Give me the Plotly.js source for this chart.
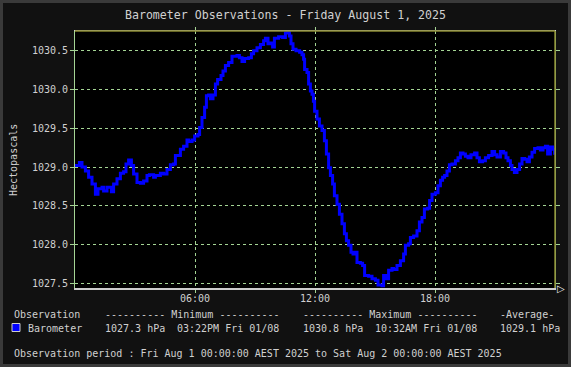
<!DOCTYPE html>
<html>
<head>
<meta charset="utf-8">
<script src="https://cdn.plot.ly/plotly-3.0.1.min.js"></script>
<style>html,body{margin:0;padding:0;background:#111;}#chart{width:571px;height:367px;}</style>
</head>
<body>
<div id="chart"></div>
<script>
// Hours since midnight, Fri 1 Aug 2025
const hours = [0.0,0.1,0.22,0.35,0.52,0.68,0.85,1.02,1.15,1.35,1.43,1.6,1.82,1.93,2.1,2.27,2.43,2.55,2.68,2.82,2.93,3.1,3.27,3.43,3.6,3.72,3.93,4.02,4.27,4.43,4.6,4.77,4.93,5.02,5.18,5.27,5.43,5.6,5.68,5.85,5.98,6.15,6.23,6.35,6.48,6.57,6.68,6.77,6.9,7.02,7.13,7.3,7.4,7.52,7.68,7.85,8.1,8.22,8.35,8.48,8.68,8.82,8.93,9.1,9.27,9.43,9.52,9.65,9.77,9.88,9.97,10.18,10.38,10.52,10.6,10.72,10.8,10.9,11.05,11.23,11.35,11.43,11.48,11.6,11.68,11.77,11.85,11.92,11.98,12.1,12.22,12.35,12.47,12.57,12.68,12.77,12.88,12.97,13.1,13.22,13.35,13.47,13.57,13.68,13.8,13.9,14.02,14.1,14.27,14.38,14.48,14.68,14.85,15.02,15.15,15.35,15.43,15.55,15.68,15.85,15.93,16.1,16.27,16.43,16.52,16.68,16.77,16.93,17.1,17.22,17.35,17.47,17.63,17.73,17.85,18.02,18.15,18.27,18.38,18.48,18.6,18.72,18.85,19.02,19.15,19.27,19.4,19.52,19.65,19.8,19.98,20.1,20.22,20.38,20.52,20.68,20.85,20.98,21.1,21.27,21.43,21.55,21.65,21.77,21.85,21.97,22.1,22.23,22.35,22.48,22.6,22.72,22.85,22.98,23.15,23.27,23.4,23.52,23.63,23.77,23.88,23.98];
const pressure = [1029.02,1029.02,1029.06,1029.00,1028.95,1028.87,1028.78,1028.65,1028.72,1028.74,1028.69,1028.74,1028.68,1028.78,1028.85,1028.92,1028.94,1029.04,1029.09,1029.02,1028.91,1028.80,1028.79,1028.82,1028.89,1028.90,1028.87,1028.89,1028.92,1028.91,1028.97,1029.03,1029.04,1029.15,1029.15,1029.23,1029.27,1029.35,1029.33,1029.35,1029.40,1029.42,1029.51,1029.64,1029.77,1029.92,1029.93,1029.88,1029.93,1030.07,1030.13,1030.18,1030.24,1030.31,1030.35,1030.43,1030.44,1030.41,1030.36,1030.40,1030.41,1030.46,1030.50,1030.54,1030.58,1030.63,1030.66,1030.59,1030.60,1030.55,1030.66,1030.68,1030.67,1030.73,1030.75,1030.69,1030.59,1030.52,1030.50,1030.48,1030.45,1030.39,1030.26,1030.22,1030.07,1029.98,1029.94,1029.85,1029.72,1029.62,1029.53,1029.47,1029.34,1029.17,1028.99,1028.89,1028.78,1028.63,1028.52,1028.39,1028.27,1028.14,1028.05,1027.99,1027.90,1027.88,1027.90,1027.77,1027.76,1027.73,1027.60,1027.59,1027.56,1027.54,1027.48,1027.47,1027.60,1027.56,1027.67,1027.69,1027.68,1027.73,1027.79,1027.88,1027.99,1028.01,1028.09,1028.11,1028.18,1028.29,1028.35,1028.46,1028.47,1028.57,1028.65,1028.67,1028.76,1028.83,1028.87,1028.89,1028.95,1029.03,1029.04,1029.08,1029.12,1029.18,1029.17,1029.14,1029.12,1029.16,1029.18,1029.12,1029.07,1029.08,1029.12,1029.15,1029.20,1029.16,1029.13,1029.20,1029.18,1029.12,1029.08,1029.02,1028.97,1028.93,1028.97,1029.04,1029.11,1029.10,1029.07,1029.13,1029.19,1029.24,1029.25,1029.22,1029.25,1029.27,1029.17,1029.26,1029.23,1029.16];
const xTickVals = [6, 12, 18];
const xTickText = ["06:00", "12:00", "18:00"];
const yTickVals = [1027.5, 1028.0, 1028.5, 1029.0, 1029.5, 1030.0, 1030.5];
const yTickText = ["1027.5", "1028.0", "1028.5", "1029.0", "1029.5", "1030.0", "1030.5"];
const titleText = "Barometer Observations - Friday August 1, 2025";
const yTitle = "Hectopascals";
const headerRow = ["Observation", "---------- Minimum ----------", "---------- Maximum ----------", "-Average-"];
const dataRow = ["Barometer", "1027.3 hPa", "03:22PM Fri 01/08", "1030.8 hPa", "10:32AM Fri 01/08", "1029.1 hPa"];
const periodText = "Observation period : Fri Aug 1 00:00:00 AEST 2025 to Sat Aug 2 00:00:00 AEST 2025";

const W = 571, H = 367, ML = 75, MR = 16, MT = 31, MB = 79;
const PW = W - ML - MR, PH = H - MT - MB;
const px = x => (x - ML) / PW;
const py = y => (H - MB - y) / PH;
const MONO = "DejaVu Sans Mono, monospace";
const TXT = "#d0d0d0";
const GRID = "#a4d494";

function ann(text, x, y, opts) {
  return Object.assign({text: text, x: px(x), y: py(y), xref: "paper", yref: "paper",
    xanchor: "left", yanchor: "middle", showarrow: false,
    font: {family: MONO, size: 10, color: TXT}}, opts || {});
}

const annotations = [
  ann(headerRow[0], 12, 314),
  ann(headerRow[1], 103, 314),
  ann(headerRow[2], 301, 314),
  ann(headerRow[3], 498, 314),
  ann(dataRow[0], 26, 328),
  ann(dataRow[1], 103, 328),
  ann(dataRow[2], 175, 328),
  ann(dataRow[3], 301, 328),
  ann(dataRow[4], 373, 328),
  ann(dataRow[5], 498, 328),
  ann(periodText, 12, 353),
  ann(yTitle, 13, 160, {xanchor: "center", textangle: -90}),
  ann("\u25B7", 555, 288, {font: {family: "DejaVu Sans", size: 10, color: "#eeeeee"}})
];

const shapes = [
  {type: "rect", xref: "paper", yref: "paper", x0: px(0), x1: px(W), y0: py(H), y1: py(0),
   line: {color: "#3a3a3a", width: 6}, fillcolor: "rgba(0,0,0,0)", layer: "below"},
  {type: "line", xref: "paper", yref: "paper", x0: 0, x1: 1, y0: 1, y1: 1, line: {color: "#8a8a30", width: 1.5}},
  {type: "line", xref: "paper", yref: "paper", x0: 1, x1: 1, y0: 0, y1: 1, line: {color: "#8a8a30", width: 1.5}},
  {type: "rect", xref: "paper", yref: "paper", x0: px(12), x1: px(20), y0: py(331.5), y1: py(323.5),
   line: {color: "#cccccc", width: 1}, fillcolor: "#0000ff"}
];

const trace = {
  x: hours, y: pressure, type: "scatter", mode: "lines",
  line: {color: "#0000ff", width: 3, shape: "hv"}, hoverinfo: "skip"
};

const layout = {
  width: W, height: H,
  margin: {l: ML, r: MR, t: MT, b: MB, pad: 0},
  paper_bgcolor: "#111111", plot_bgcolor: "#000000",
  showlegend: false,
  title: {text: titleText, x: 0.5, xanchor: "center", xref: "container",
          y: 1 - 15 / H, yanchor: "middle", yref: "container",
          font: {family: MONO, size: 11.6, color: TXT}},
  xaxis: {range: [0, 24], tickvals: xTickVals, ticktext: xTickText,
          showgrid: true, gridcolor: GRID, griddash: "dot", gridwidth: 1,
          zeroline: false, showline: true, linecolor: "#cccccc", linewidth: 1.5,
          ticks: "outside", ticklen: 3, tickcolor: GRID, mirror: "ticks",
          ticklabelstandoff: -3,
          tickfont: {family: MONO, size: 10, color: TXT}, fixedrange: true},
  yaxis: {range: [1027.44, 1030.755], tickvals: yTickVals, ticktext: yTickText,
          showgrid: true, gridcolor: GRID, griddash: "dot", gridwidth: 1,
          zeroline: false, showline: true, linecolor: GRID, linewidth: 1,
          ticks: "outside", ticklen: 4, tickcolor: GRID, mirror: "ticks",
          tickfont: {family: MONO, size: 10, color: TXT}, fixedrange: true},
  annotations: annotations,
  shapes: shapes
};

Plotly.newPlot("chart", [trace], layout, {staticPlot: true, displayModeBar: false});
</script>
</body>
</html>
